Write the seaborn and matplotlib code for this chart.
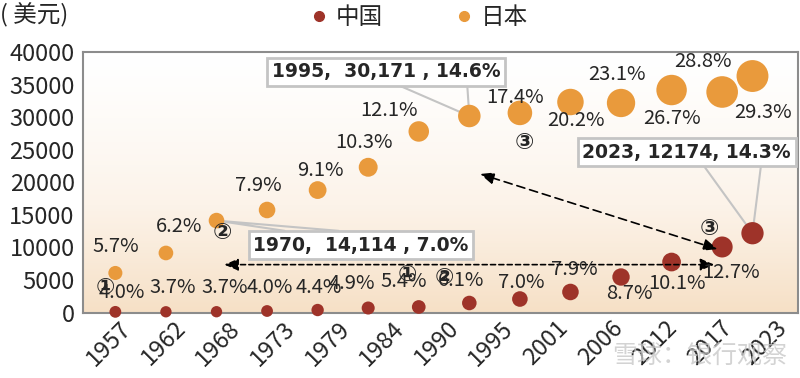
import numpy as np
import pandas as pd
import matplotlib
matplotlib.use('Agg')
import matplotlib.pyplot as plt
import seaborn as sns
from matplotlib.lines import Line2D
from matplotlib.colors import LinearSegmentedColormap

# data
years = [1960, 1965, 1970, 1975, 1980, 1985, 1990, 1995, 2000, 2005, 2010, 2015, 2020, 2023]
china_gdp = [100, 110, 120, 230, 380, 690, 850, 1460, 2070, 3150, 5450, 7750, 10060, 12174]
japan_gdp = [6070, 9140, 14114, 15740, 18800, 22300, 27800, 30171, 30650, 32320, 32170, 34160, 33860, 36310]
china_pct = [4.0, 3.7, 3.7, 4.0, 4.4, 4.9, 5.4, 6.1, 7.0, 7.9, 8.7, 10.1, 12.7, 14.3]
japan_pct = [5.7, 6.2, 7.0, 7.9, 9.1, 10.3, 12.1, 14.6, 17.4, 20.2, 23.1, 26.7, 28.8, 29.3]
tick_labels = ['1957', '1962', '1968', '1973', '1979', '1984', '1990',
               '1995', '2001', '2006', '2012', '2017', '2023']

CN_COLOR = '#9e3329'
JP_COLOR = '#e99a3c'
CALLOUT = '#c4c4c4'

df = pd.concat([
    pd.DataFrame({'year': years, 'gdp': china_gdp, 'pct': china_pct, 'country': '中国'}),
    pd.DataFrame({'year': years, 'gdp': japan_gdp, 'pct': japan_pct, 'country': '日本'}),
])

sns.set_theme(style='white')
plt.rcParams['font.family'] = ['Noto Sans CJK SC', 'DejaVu Sans']
plt.rcParams['axes.unicode_minus'] = False

fig = plt.figure(figsize=(8, 3.78), dpi=100)
ax = fig.add_axes([83 / 800, 1 - 312.5 / 378, 715 / 800, 260.5 / 378])

xmin, xmax = 1956.8, 2027.5

# gradient background (white -> peach)
grad = np.linspace(0, 1, 256).reshape(-1, 1) ** 1.3
bg = LinearSegmentedColormap.from_list('bg', ['#ffffff', '#fcf3e9', '#f6e0c6'])
ax.imshow(grad, extent=[xmin, xmax, 0, 40000], origin='upper', aspect='auto', cmap=bg, zorder=0)

sns.scatterplot(data=df, x='year', y='gdp', hue='country', size='pct',
                palette={'中国': CN_COLOR, '日本': JP_COLOR},
                sizes=(0, 540), size_norm=(0, 30), linewidth=0,
                legend=False, clip_on=False, zorder=3, ax=ax)

ax.set_xlim(xmin, xmax)
ax.set_ylim(0, 40000)
ax.set_xlabel('')
ax.set_ylabel('')
ax.set_yticks(range(0, 40001, 5000))
ax.set_yticklabels([str(v) for v in range(0, 40001, 5000)], fontsize=17)
ax.set_xticks(np.linspace(1960.4, 2025.2, len(tick_labels)))
ax.set_xticklabels(tick_labels, fontsize=17, rotation=45, ha='right', va='top',
                   rotation_mode='anchor')
ax.tick_params(length=0, pad=6)
ax.tick_params(axis='x', pad=3)
for s in ax.spines.values():
    s.set_color('#8c8c8c')
    s.set_linewidth(1.5)

# percentage labels (pixel offsets from each bubble)
cn_off = [(6, 19), (7, 24), (8, 24), (3, 24), (1, 23), (-16, 25), (-15, 25), (-8, 22),
          (1, 17), (4, 22), (8, -16), (5, -21), (9, -26), None]
jp_off = [(0, 26), (13, 26), None, (-9, 24), (3, 20), (-4, 25), (-30, 21), None,
          (-5, 15), (5, -18), (-4, 28), (0, -28), (-19, 30), (11, -36)]
for yr, g, p, off in zip(years, china_gdp, china_pct, cn_off):
    if off:
        ax.annotate(f'{p:.1f}%', (yr, g), xytext=off, textcoords='offset pixels',
                    ha='center', va='center', fontsize=14.5, zorder=5)
for yr, g, p, off in zip(years, japan_gdp, japan_pct, jp_off):
    if off:
        ax.annotate(f'{p:.1f}%', (yr, g), xytext=off, textcoords='offset pixels',
                    ha='center', va='center', fontsize=14.5, zorder=5)

# callout boxes: text, index, series, box centre, which edge, base span (fraction of box width)
box = dict(boxstyle='square,pad=0.25', fc='white', ec=CALLOUT, lw=2)
callouts = [
    ('1970,  14,114 , 7.0%', 2, japan_gdp, (1984.3, 10360), 'top', (0.16, 0.40)),
    ('1995,  30,171 , 14.6%', 7, japan_gdp, (1986.8, 36930), 'bottom', (0.56, 0.84)),
    ('2023, 12174, 14.3%', 13, china_gdp, (2016.5, 24620), 'bottom', (0.58, 0.84)),
]
texts = []
for txt, i, series, pos, edge, span in callouts:
    t = ax.text(pos[0], pos[1], txt, ha='center', va='center', fontsize=13.5,
                fontweight='bold', family='DejaVu Sans', bbox=box, zorder=6)
    texts.append(t)

fig.canvas.draw()
renderer = fig.canvas.get_renderer()
inv = ax.transData.inverted()
for t, (txt, i, series, pos, edge, span) in zip(texts, callouts):
    bb = t.get_bbox_patch().get_window_extent(renderer)
    ey = bb.y1 if edge == 'top' else bb.y0
    pts = [(bb.x0 + f * bb.width, ey) for f in span]
    (xa, ya), (xb, yb) = inv.transform(pts)
    ax.plot([xa, years[i], xb], [ya, series[i], yb], color=CALLOUT, lw=1.5,
             zorder=2.5, clip_on=False)

# dashed arrows
arrow = dict(arrowstyle='<|-|>,head_length=0.7,head_width=0.3', color='black',
             lw=1.2, linestyle=(0, (3, 2)))
ax.annotate('', xy=(1970.5, 7350), xytext=(2019.5, 7350), arrowprops=arrow, zorder=4)
arrow2 = dict(arrow, linestyle=(0, (5, 3)))
ax.annotate('', xy=(1995.8, 21400), xytext=(2019.8, 9600), arrowprops=arrow2, zorder=4)

# circled markers
for ch, x, y in [('①', 1959.0, 3900), ('②', 1970.6, 12240), ('③', 2000.4, 26030),
                 ('①', 1988.9, 5760), ('②', 1992.5, 5300), ('③', 2018.7, 12970)]:
    ax.text(x, y, ch, ha='center', va='center', fontsize=16.5, fontweight='bold',
            family=['DejaVu Sans', 'Noto Sans CJK SC'], zorder=6)

# legend and unit
handles = [Line2D([], [], ls='', marker='o', ms=7, mfc=CN_COLOR, mec=CN_COLOR),
           Line2D([], [], ls='', marker='o', ms=7, mfc=JP_COLOR, mec=JP_COLOR)]
fig.legend(handles, ['中国', '日本'], loc='upper center', bbox_to_anchor=(0.522, 1.04),
           ncol=2, frameon=False, fontsize=17, handletextpad=0.2, columnspacing=2.95,
           handlelength=1.0)
fig.text(0.0, 0.96, '( 美元)', fontsize=17, va='center', ha='left')

# watermark
fig.text(0.875, 0.06, '雪球：银行观察', fontsize=18, color='#c8c8c8', alpha=0.8,
         ha='center', va='center')

fig.savefig('out.png', dpi=100)
